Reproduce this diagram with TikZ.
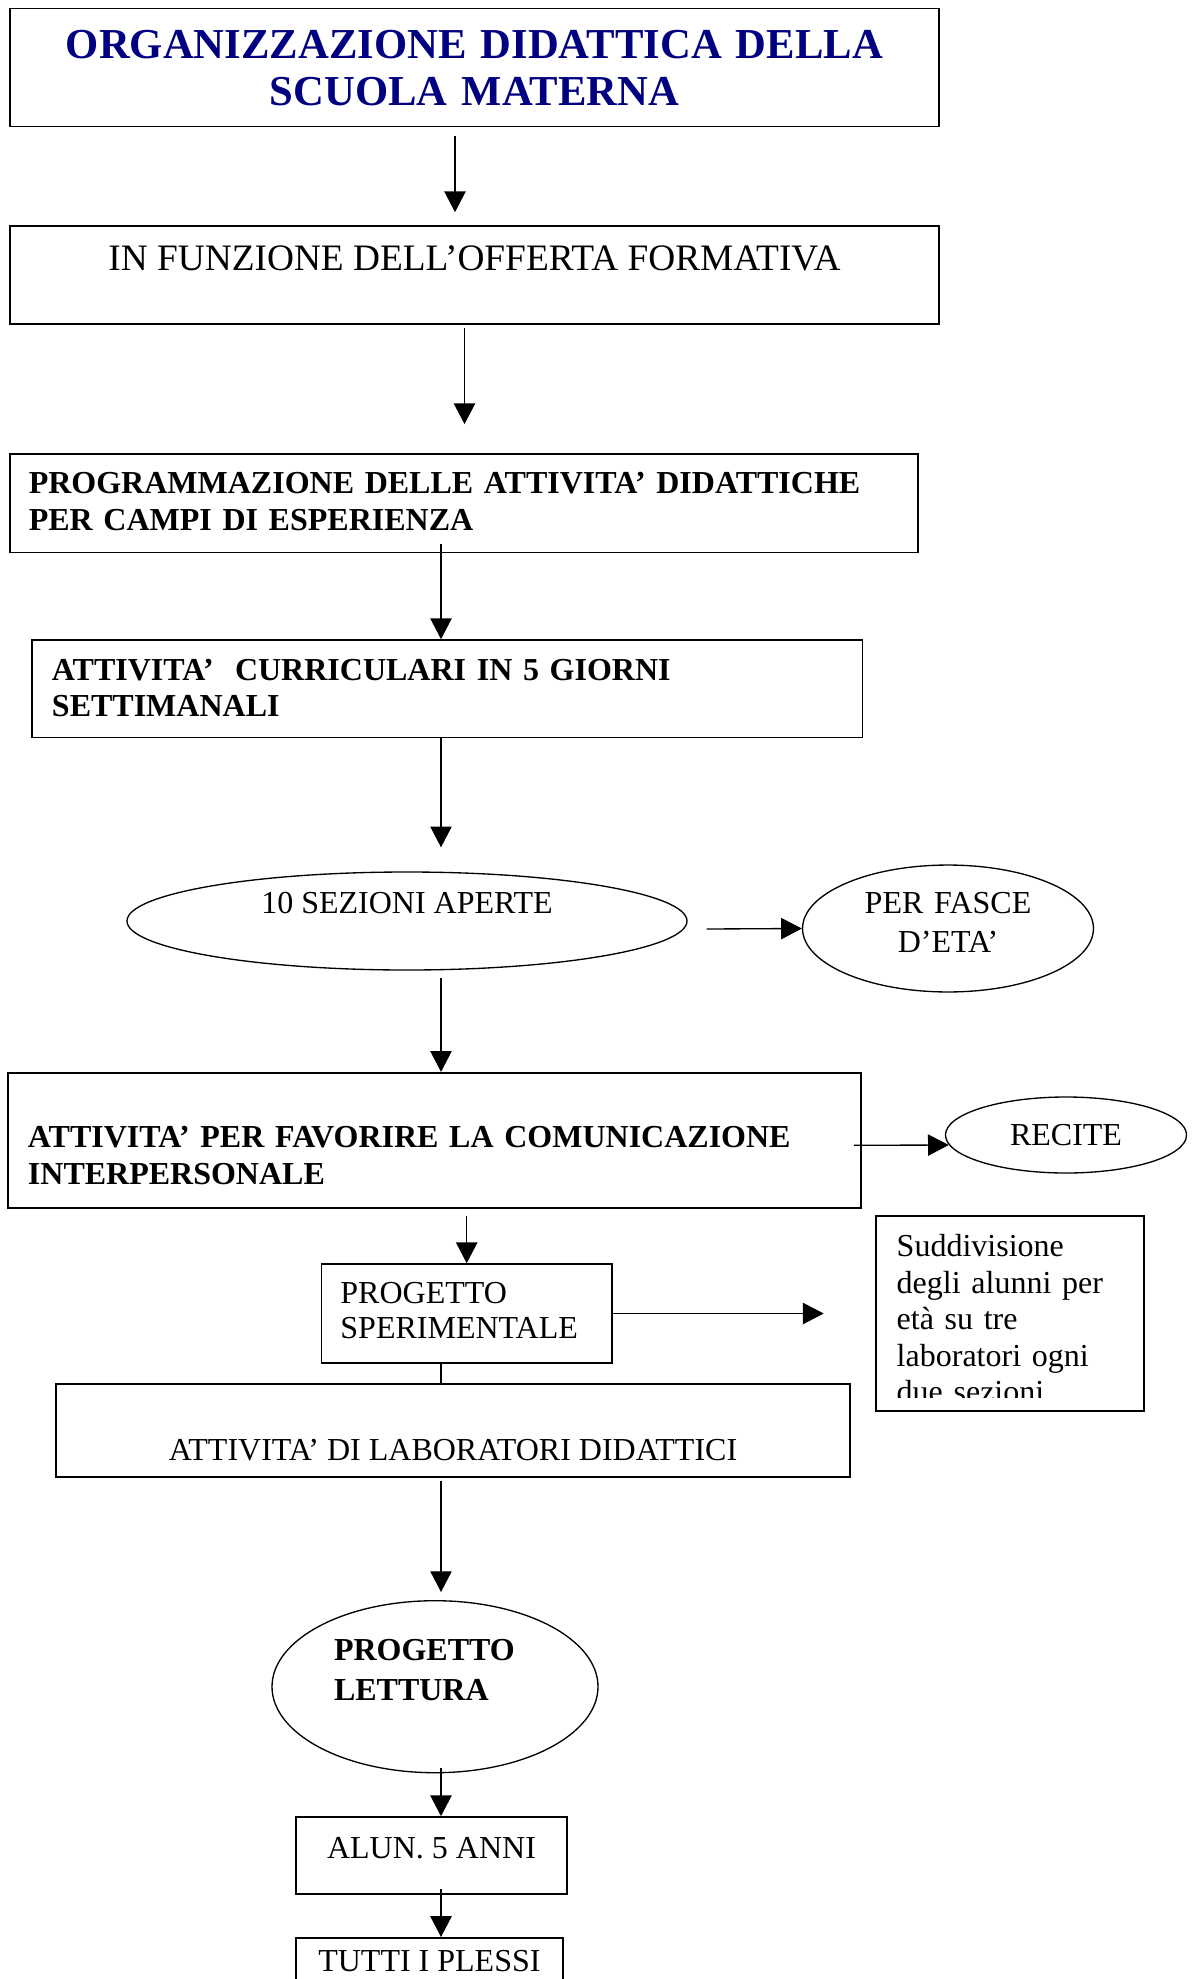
\documentclass[tikz,border=0pt]{standalone}
\usepackage{fontspec}
\setmainfont{Liberation Serif}
\usepackage{tikz}
\usepackage{xcolor}
\usetikzlibrary{arrows.meta,calc,shapes.geometric}
\definecolor{navytitle}{RGB}{0,0,128}

\begin{document}
\begin{tikzpicture}[x=0.375pt, y=-0.375pt, >={Triangle[length=7.8pt,width=8pt]},
  box/.style={draw, line width=0.6pt, rectangle, inner sep=0pt},
  oval/.style={draw, line width=0.5pt, ellipse, inner sep=0pt},
  arr/.style={->, line width=0.5pt},
  lift/.style={text height=0pt, text depth=#1},
  drop/.style={text height=#1, text depth=0pt},
  plaintxt/.style={font=\fontsize{12}{13.8}\selectfont},
  boldtxt/.style={font=\fontsize{12}{14}\selectfont\bfseries}]
\useasboundingbox (0,0) rectangle (1194,1979);

% Columns of the arrows
\coordinate (c1) at (455,0);
\coordinate (c2) at (464.5,0);
\coordinate (c3) at (441,0);

% Boxes
\node[box, minimum width=348.4pt, minimum height=44.25pt, text width=340pt, align=center,
  lift=7pt, text=navytitle, font=\fontsize{16}{17.6}\selectfont\bfseries] (title) at (474.5,67.5)
  {ORGANIZZAZIONE DIDATTICA DELLA\\SCUOLA MATERNA};
\node[box, minimum width=348.4pt, minimum height=36.75pt, lift=3.6pt,
  font=\fontsize{14}{16}\selectfont] (offerta) at (474.5,275)
  {IN FUNZIONE DELL’OFFERTA FORMATIVA};
\node[box, minimum width=340.7pt, minimum height=37pt, text width=326.4pt, align=left,
  lift=7.35pt, font=\fontsize{12}{13.9}\selectfont\bfseries] (progr) at (464,503.3)
  {PROGRAMMAZIONE DELLE ATTIVITA’ DIDATTICHE\\PER CAMPI DI ESPERIENZA};
\node[box, minimum width=311.5pt, minimum height=36.6pt, text width=296.5pt, align=left,
  lift=6.2pt, font=\fontsize{12}{13.3}\selectfont\bfseries] (curric) at (447.3,688.8)
  {ATTIVITA’~ CURRICULARI IN 5 GIORNI\\SETTIMANALI};
\node[oval, plaintxt, minimum width=210pt, minimum height=36.75pt, lift=5.6pt] (sez) at (407,921)
  {10 SEZIONI APERTE};
\node[oval, minimum width=109.1pt, minimum height=47.6pt, text width=64pt, align=center,
  lift=11.25pt, font=\fontsize{12}{14.6}\selectfont] (fasce) at (948,928.5) {PER FASCE\\D’ETA’};
\node[box, boldtxt, minimum width=319.9pt, minimum height=50.7pt, text width=304.9pt,
  align=left, drop=5.4pt] (comunic) at (434.5,1140.3)
  {ATTIVITA’ PER FAVORIRE LA COMUNICAZIONE\\INTERPERSONALE};
\node[oval, plaintxt, minimum width=90.4pt, minimum height=28.5pt] (recite) at (1066,1135) {RECITE};
\node[box, minimum width=108.9pt, minimum height=37.1pt, text width=94.7pt, align=left,
  lift=7.5pt, font=\fontsize{12}{13.2}\selectfont] (sper) at (466.7,1313.5)
  {PROGETTO\\SPERIMENTALE};
\node[box, minimum width=100.5pt, minimum height=73.1pt] (suddiv) at (1010,1313.5) {};
\begin{scope}
\clip (suddiv.north west) rectangle ($(suddiv.south east)+(0,-14)$);
\node[anchor=base west, inner sep=0pt, text width=90pt, align=left,
  font=\fontsize{12}{13.7}\selectfont]
  (suddivtext) at ($(suddiv.north west)+(21,41.5)$)
  {Suddivisione\\degli alunni per\\età su tre\\laboratori ogni\\due sezioni};
\end{scope}
\node[box, plaintxt, minimum width=297.75pt, minimum height=34.9pt, drop=22.5pt] (lab) at (453,1430.5)
  {ATTIVITA’ DI LABORATORI DIDATTICI};
\node[oval, minimum width=122.25pt, minimum height=64.5pt, text width=75.75pt, align=left,
  lift=19.6pt, font=\fontsize{12}{15}\selectfont\bfseries] (lett) at (435,1686.7)
  {PROGETTO\\LETTURA};
\node[box, plaintxt, minimum width=101.6pt, minimum height=28.9pt, drop=2.25pt] (alun) at (431.5,1855.5)
  {ALUN. 5 ANNI};
\node[box, plaintxt, minimum width=100pt, minimum height=28.9pt, anchor=north, lift=3.75pt] (plessi)
  at (429.4,1937) {TUTTI I PLESSI};

% Arrows
\draw[arr] ($(title.south -| c1)+(0,9)$) -- ($(offerta.north -| c1)+(0,-13)$);
\draw[arr] ($(offerta.south -| c2)+(0,3)$) -- ($(progr.north -| c2)+(0,-29)$);
\draw[arr] ($(progr.south -| c3)+(0,-9)$) -- (curric.north -| c3);
\draw[arr] (curric.south -| c3) -- ($(sez.north -| c3)+(0,-24)$);
\draw[arr] ($(sez.east)+(19,8)$) -- (fasce.west);
\draw[arr] ($(sez.south -| c3)+(0,7)$) -- (comunic.north -| c3);
\draw[arr] ($(comunic.east)+(-8,5)$) -- ($(recite.west)+(4,10)$);
\draw[arr] ($(comunic.south -| sper.north)+(0,7)$) -- (sper.north);
\coordinate (free) at ($(sper.east)+(211,0)$);
\draw[arr] (sper.east) -- (free);
\draw[line width=0.5pt] (sper.south -| c3) -- (lab.north -| c3);
\draw[arr] ($(lab.south -| c3)+(0,3)$) -- ($(lett.north -| c3)+(0,-8)$);
\draw[arr] ($(lett.south -| c3)+(0,-5)$) -- (alun.north -| c3);
\draw[arr] ($(alun.south -| c3)+(0,-6)$) -- (plessi.north -| c3);
\end{tikzpicture}
\end{document}
